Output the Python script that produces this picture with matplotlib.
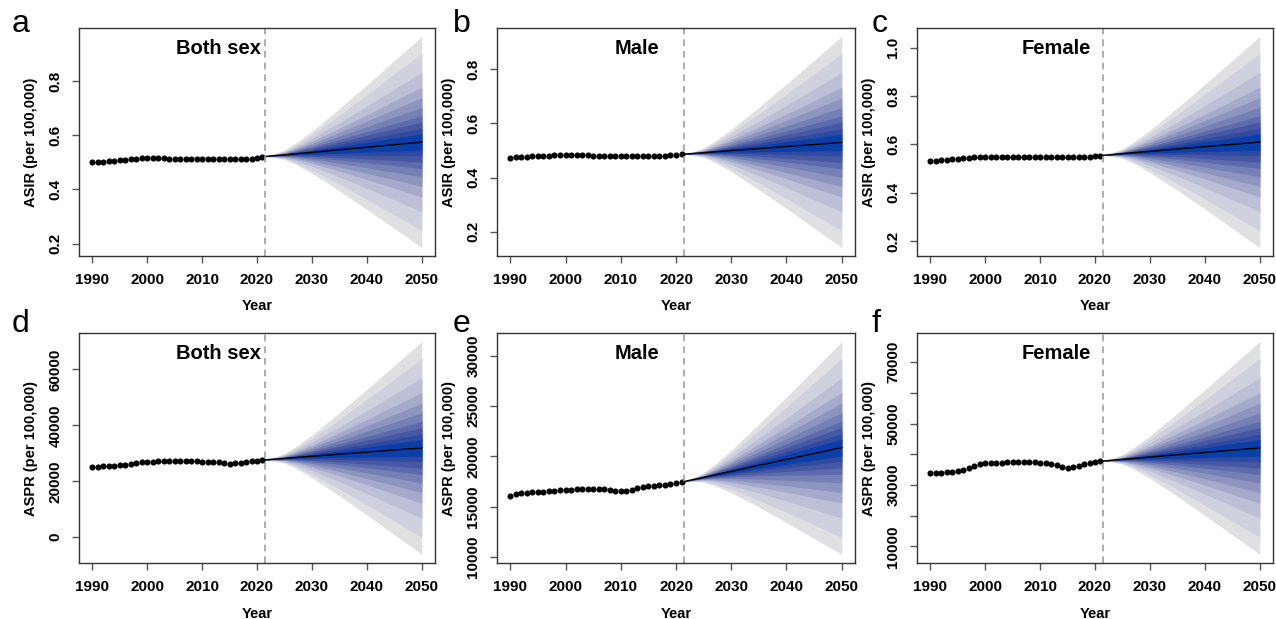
import numpy as np
import matplotlib
matplotlib.use("Agg")
import matplotlib.pyplot as plt

plt.rcParams['font.family'] = ['Liberation Sans', 'DejaVu Sans']

# ---------------------------
# observed data, 1990-2021
# ---------------------------
years = list(range(1990, 2022))

asir_both = [0.500, 0.502, 0.503, 0.505, 0.507, 0.509, 0.510, 0.512, 0.514, 0.515,
             0.516, 0.516, 0.516, 0.515, 0.514, 0.513, 0.513, 0.513, 0.512, 0.512,
             0.512, 0.512, 0.512, 0.512, 0.512, 0.512, 0.512, 0.513, 0.513, 0.514,
             0.516, 0.521]
asir_male = [0.474, 0.475, 0.476, 0.477, 0.478, 0.479, 0.480, 0.481, 0.483, 0.484,
             0.485, 0.485, 0.484, 0.483, 0.482, 0.481, 0.481, 0.481, 0.481, 0.481,
             0.481, 0.481, 0.481, 0.481, 0.481, 0.481, 0.481, 0.481, 0.481, 0.482,
             0.484, 0.486]
asir_female = [0.531, 0.533, 0.535, 0.537, 0.539, 0.541, 0.543, 0.545, 0.547, 0.548,
               0.549, 0.549, 0.549, 0.548, 0.547, 0.546, 0.546, 0.546, 0.546, 0.546,
               0.546, 0.546, 0.546, 0.546, 0.546, 0.546, 0.546, 0.546, 0.547, 0.548,
               0.550, 0.554]
aspr_both = [25080, 25200, 25320, 25440, 25560, 25680, 25920, 26280, 26520, 26760,
             26890, 27010, 27130, 27200, 27250, 27250, 27250, 27250, 27200, 27130,
             27010, 27010, 26890, 26760, 26400, 26280, 26400, 26640, 26890, 27130,
             27370, 27600]
aspr_male = [16080, 16250, 16350, 16400, 16430, 16450, 16500, 16550, 16600, 16640,
             16670, 16700, 16720, 16740, 16760, 16770, 16760, 16720, 16670, 16600,
             16570, 16600, 16700, 16840, 16920, 17005, 17050, 17105, 17180, 17270,
             17300, 17440]
aspr_female = [33840, 33950, 34060, 34170, 34300, 34500, 34900, 35600, 36300, 36800,
               37100, 37200, 37250, 37300, 37400, 37500, 37600, 37600, 37500, 37400,
               37300, 37100, 36900, 36500, 35900, 35600, 35800, 36300, 36800, 37200,
               37400, 37760]

# ---------------------------
# forecast, 2021-2050
# ---------------------------
fc_years = [2021, 2023, 2025, 2027, 2030, 2035, 2040, 2045, 2050]
# how far the fan has opened at each year (share of the 2050 width)
fan_open = [0.0, 0.015, 0.045, 0.10, 0.20, 0.39, 0.59, 0.795, 1.0]
# band edges as share of the outer half-width (10 bands each side)
band_edges = [0.078, 0.13, 0.19, 0.25, 0.33, 0.42, 0.52, 0.66, 0.84, 1.0]

mean_asir_both = [0.521, 0.525, 0.528, 0.532, 0.537, 0.547, 0.556, 0.566, 0.575]
mean_asir_male = [0.486, 0.489, 0.492, 0.495, 0.500, 0.507, 0.515, 0.522, 0.530]
mean_asir_female = [0.554, 0.558, 0.562, 0.566, 0.571, 0.581, 0.591, 0.600, 0.610]
mean_aspr_both = [27600, 27900, 28200, 28500, 28940, 29690, 30440, 31190, 31930]
mean_aspr_male = [17440, 17680, 17910, 18150, 18500, 19100, 19690, 20280, 20870]
mean_aspr_female = [37760, 38060, 38360, 38660, 39110, 39860, 40600, 41350, 42100]

# outer fan limits in 2050 (upper, lower)
outer_2050 = [(0.966, 0.185), (0.922, 0.141), (1.047, 0.173),
              (70000, -6200), (31400, 10250), (76700, 7400)]

letters = ['a', 'b', 'c', 'd', 'e', 'f']
titles = ['Both sex', 'Male', 'Female', 'Both sex', 'Male', 'Female']
ylabels = ['ASIR (per 100,000)'] * 3 + ['ASPR (per 100,000)'] * 3
observed = [asir_both, asir_male, asir_female, aspr_both, aspr_male, aspr_female]
means = [mean_asir_both, mean_asir_male, mean_asir_female,
         mean_aspr_both, mean_aspr_male, mean_aspr_female]
yticks = [[0.2, 0.4, 0.6, 0.8], [0.2, 0.4, 0.6, 0.8], [0.2, 0.4, 0.6, 0.8, 1.0],
          [0, 20000, 40000, 60000], [10000, 15000, 20000, 25000, 30000],
          [10000, 20000, 30000, 40000, 50000, 60000, 70000]]
yticklabels = [['0.2', '0.4', '0.6', '0.8'], ['0.2', '0.4', '0.6', '0.8'],
               ['0.2', '0.4', '0.6', '0.8', '1.0'],
               ['0', '20000', '40000', '60000'],
               ['10000', '15000', '20000', '25000', '30000'],
               ['10000', '', '30000', '', '50000', '', '70000']]

fan_colors = ['#0a3ea8', '#2f4aa0', '#4658a3', '#5d6aab', '#7580b5',
              '#8d95bf', '#a5aaca', '#bcbfd5', '#d0d1de', '#e0e0e3']

# ---------------------------
# layout (pixels of a 1276 x 619 figure)
# ---------------------------
W, H = 1276, 619
col_left = [79, 497, 917]
col_width = [356, 358, 356]
row_top = [28, 333]
row_height = [228, 230]
letter_x = [12, 453, 872]
letter_base = [32, 332]

fig = plt.figure(figsize=(W / 100, H / 100), dpi=100)

for i in range(6):
    r, c = divmod(i, 3)
    l, w = col_left[c], col_width[c]
    t, h = row_top[r], row_height[r]
    ax = fig.add_axes([l / W, 1 - (t + h) / H, w / W, h / H])

    mean = np.array(means[i])
    opn = np.array(fan_open)
    up, lo = outer_2050[i]
    up_hw = (up - mean[-1]) * opn
    lo_hw = (mean[-1] - lo) * opn
    # widest band first, narrower ones painted on top
    for k in reversed(range(len(band_edges))):
        ax.fill_between(fc_years, mean - lo_hw * band_edges[k], mean + up_hw * band_edges[k],
                        color=fan_colors[k], lw=0)
    ax.plot(fc_years, mean, color='black', lw=1)
    ax.plot(years, observed[i], 'o', ms=4.4, color='black', mec='none')
    ax.axvline(2021.5, color='#a0a0a0', ls=(0, (4, 3)), lw=1.2)

    ax.margins(x=0.04, y=0.04)
    ax.set_xlim(1987.6, 2052.4)
    ax.set_xticks(range(1990, 2051, 10))
    ax.set_xticklabels([str(y) for y in range(1990, 2051, 10)], fontweight='bold', fontsize=11)
    ax.set_yticks(yticks[i])
    ax.set_yticklabels(yticklabels[i], rotation=90, va='center', fontweight='bold', fontsize=11)
    ax.tick_params(length=5, width=1, color='#555555', pad=7)
    for s in ax.spines.values():
        s.set_color('#333333')
        s.set_linewidth(1)

    ax.set_xlabel('Year', fontweight='bold', fontsize=10.5)
    ax.set_ylabel(ylabels[i], fontweight='bold', fontsize=10.5)
    ax.xaxis.set_label_coords(0.5, -0.19)
    ax.yaxis.set_label_coords(-0.115, 0.5)

    ax.text(2013, 0.91, titles[i], transform=ax.get_xaxis_transform(),
            ha='center', va='center', fontsize=14.5, fontweight='bold')
    fig.text(letter_x[c] / W, 1 - letter_base[r] / H, letters[i], fontsize=23,
             ha='left', va='baseline')

fig.savefig('out.png', dpi=100)
